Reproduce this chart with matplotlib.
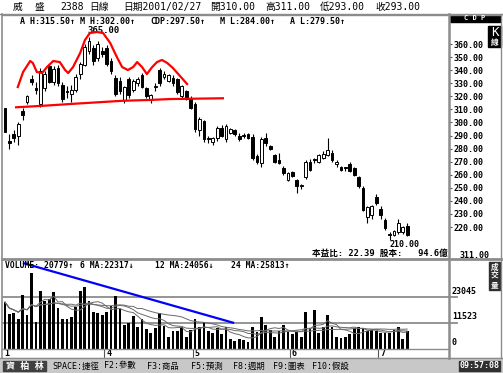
import matplotlib
matplotlib.use('Agg')
import matplotlib.pyplot as plt
from matplotlib.patches import Rectangle
import numpy as np
import pandas as pd

# stock 2388 daily candles + volume
opens = [311, 286, 291, 290, 309, 316, 333, 326, 314, 326, 343, 331, 342, 329, 324, 322,
         325, 337, 344, 355, 357, 349, 355, 357, 347, 334, 332, 317, 333, 325, 330, 336,
         326, 317, 327, 340, 335, 332, 334, 333, 320, 324, 319, 314, 294, 301, 288, 285,
         288, 296, 287, 292, 294, 290, 290, 291, 289, 274, 269, 288, 282, 275, 271, 265,
         256, 262, 256, 251, 258, 270, 271, 270, 273, 275, 277, 268, 266, 265, 268, 265,
         258, 250, 228, 229, 243, 234, 225, 215, 214, 216, 216, 221]
highs = [311, 291, 294, 300, 311, 321, 336, 331, 342, 339, 345, 343, 344, 331, 328, 329,
         337, 346, 360, 365, 359, 362, 358, 359, 349, 336, 335, 328, 335, 333, 335, 338,
         327, 322, 330, 342, 339, 337, 336, 334, 329, 325, 320, 316, 304, 302, 290, 289,
         297, 298, 299, 296, 295, 292, 292, 292, 291, 276, 289, 292, 283, 276, 277, 267,
         262, 263, 257, 253, 271, 272, 273, 276, 278, 288, 279, 271, 267, 266, 270, 266,
         259, 251, 236, 237, 245, 236, 227, 216, 218, 226, 221, 223]
lows = [293, 280, 285, 283, 302, 314, 329, 322, 312, 324, 330, 329, 328, 316, 319, 316,
        323, 333, 343, 352, 344, 347, 350, 343, 337, 320, 322, 315, 319, 323, 328, 326,
        319, 315, 324, 328, 333, 331, 328, 322, 318, 317, 310, 293, 290, 285, 284, 283,
        286, 289, 285, 291, 290, 286, 288, 287, 271, 268, 266, 282, 279, 269, 268, 260,
        255, 258, 246, 249, 257, 263, 269, 269, 272, 274, 270, 266, 263, 263, 262, 259,
        250, 232, 223, 226, 237, 226, 218, 210, 213, 215, 215, 213]
closes = [293, 284, 288, 299, 306, 320, 331, 325, 339, 337, 331, 341, 330, 318, 323, 325,
          335, 345, 358, 362, 347, 360, 352, 345, 339, 322, 324, 327, 321, 332, 333, 327,
          320, 321, 328, 330, 337, 336, 330, 323, 328, 318, 311, 295, 303, 287, 287, 288,
          296, 290, 297, 295, 291, 287, 290, 288, 273, 270, 287, 284, 280, 270, 269, 261,
          261, 259, 251, 252, 270, 264, 271, 275, 276, 279, 271, 270, 264, 265, 263, 260,
          251, 233, 235, 236, 238, 229, 219, 214, 217, 223, 220, 214]
volumes = [20779, 15400, 15800, 13300, 23900, 15100, 33800, 12100, 25800, 21400, 22000,
           25400, 18300, 13100, 13100, 14300, 18800, 25700, 27600, 21400, 16500, 15800,
           15100, 16500, 19200, 23500, 17600, 10600, 11400, 14600, 9900, 13100, 8700,
           7200, 9200, 15800, 10300, 5500, 8100, 8100, 9600, 5500, 8400, 13100, 9900,
           12100, 8000, 6900, 9200, 6600, 9900, 4400, 3700, 4400, 4000, 3200, 9900, 7700,
           14300, 10600, 8400, 5500, 8100, 10600, 7400, 6600, 7700, 5500, 16500, 9200,
           17300, 7200, 9900, 15100, 9900, 5500, 4700, 5500, 6500, 9200, 9600, 9200, 8100,
           8400, 8100, 6900, 7200, 7200, 8400, 9900, 4400, 8000]

month_starts = [0, 23, 43, 65, 85]
month_labels = ['1', '4', '5', '6', '7']
price_ticks = list(range(220, 361, 10))
vol_ticks = [0, 11523, 23045]

# hand drawn head-and-shoulders marks
hs_x = [2.9, 4.1, 5.7, 6.3, 7.2, 8.4, 9.5, 10.9, 12.4, 13.6, 14.3, 15.4, 17.0, 18.1,
        19.2, 20.8, 22.2, 23.8, 25.3, 26.5, 27.8, 29.0, 29.9, 31.0, 32.1, 33.3, 34.4,
        35.5, 36.7, 38.0, 39.6, 41.2]
hs_y = [327.1, 338.6, 347.0, 345.5, 338.6, 337.8, 342.4, 347.0, 346.2, 340.1, 337.8,
        342.4, 353.1, 363.1, 368.4, 369.2, 368.4, 360.8, 350.1, 342.4, 340.1, 342.4,
        346.2, 342.4, 337.0, 342.4, 346.2, 347.8, 345.5, 341.6, 335.5, 329.4]
neck_x = [2.5, 7.9, 14.7, 26.7, 32.8, 37.3, 49.3]
neck_y = [311.6, 312.6, 314.1, 316.6, 317.2, 317.9, 318.5]
vtrend_x = [4.3, 51.6]
vtrend_y = [37960, 11650]

W, H = 503, 373
MONO = ['DejaVu Sans Mono', 'Noto Sans CJK TC']
plt.rcParams['font.family'] = MONO
plt.rcParams['font.weight'] = 'bold'
GRAY = '#8c8c8c'

fig = plt.figure(figsize=(W / 100, H / 100), dpi=100)
fig.patch.set_facecolor('white')


def px_axes(x0, y0, x1, y1, z=1):
    return fig.add_axes([x0 / W, 1 - y1 / H, (x1 - x0) / W, (y1 - y0) / H], zorder=z)


XL = (-0.45, 100.45)
idx = np.arange(len(opens))
o = np.array(opens); c = np.array(closes)
h = np.array(highs); l = np.array(lows)

# price panel
ax = px_axes(3, 15, 449, 258)
ax.set_xlim(*XL)
ax.set_ylim(196.3, 382.2)
for s in ax.spines.values():
    s.set_visible(False)
ax.set_xticks([])
ax.yaxis.tick_right()
ax.set_yticks(price_ticks)
ax.set_yticklabels([f'{v:.2f}' for v in price_ticks])
ax.tick_params(axis='y', length=2, pad=1, labelsize=6, color='#555555')
ax.vlines(idx, l, h, color='black', lw=0.8, zorder=2)
up = c > o
body_h = np.maximum(np.abs(c - o), 0.7)
ax.bar(idx, body_h, bottom=np.minimum(o, c), width=0.62,
       color=np.where(up, 'white', 'black'), edgecolor='black', lw=0.7, zorder=3)
ax.plot(hs_x, hs_y, color='#ff0000', lw=1.6, zorder=4)
ax.plot(neck_x, neck_y, color='#ff0000', lw=1.6, zorder=4)
hi_i = int(np.argmax(h)); lo_i = int(np.argmin(l))
ax.annotate(f'{h[hi_i]:.2f}', (hi_i, h[hi_i]), xytext=(15, 7), textcoords='offset pixels',
            ha='center', va='center', fontsize=6.5)
ax.annotate(f'{l[lo_i]:.2f}', (lo_i, l[lo_i]), xytext=(15, -4), textcoords='offset pixels',
            ha='center', va='center', fontsize=6)

# volume panel
axv = px_axes(3, 261, 449, 349)
axv.set_xlim(*XL)
axv.set_ylim(0, 38984)
axv.axis('off')
for lv in vol_ticks[1:]:
    axv.plot([XL[0], 102.3], [lv, lv], color=GRAY, lw=1.3, clip_on=False, zorder=1)
axv.bar(idx, volumes, width=0.62, color='black', zorder=2)
vs = pd.Series(volumes)
for n in (6, 12, 24):
    axv.plot(idx, vs.rolling(n, min_periods=1).mean(), color='#6a6a6a', lw=0.7, zorder=3)
axv.plot(vtrend_x, vtrend_y, color='#0000ff', lw=1.6, zorder=4)

# month row
axm = px_axes(3, 349, 449, 358)
axm.set_xlim(*XL)
axm.set_ylim(0, 1)
axm.axis('off')
for k, (m, lab) in enumerate(zip(month_starts, month_labels)):
    if k:
        axm.vlines(m - 0.5, 0, 1, color='#555555', lw=0.8)
    axm.text(m - 0.1, 0.45, lab, fontsize=6, va='center', ha='left')

# overlay: frame, header, boxes and texts in pixel coords
ov = px_axes(0, 0, W, H, z=10)
ov.set_xlim(0, W)
ov.set_ylim(H, 0)
ov.axis('off')
ov.add_patch(Rectangle((0, 358), W, 15, color='#c8c8c8', zorder=0))
for x0, y0, x1, y1, lw in [(0, 13.5, W, 13.5, 1), (2, 14.5, 501, 14.5, 1),
                           (2.5, 14, 2.5, 358, 1.2), (449.5, 14, 449.5, 358, 1.8),
                           (501.5, 14, 501.5, 358, 1), (2, 259, 501, 259, 2),
                           (2, 349, 449, 349, 1), (0, 358, W, 358, 1)]:
    ov.plot([x0, x1], [y0, y1], color=GRAY, lw=lw)

head = [('威', 13), ('盛', 35), ('2388', 60), ('日線', 89), ('日期2001/02/27', 123),
        ('開310.00', 210), ('高311.00', 265), ('低293.00', 320), ('收293.00', 375)]
for t, x in head:
    ov.text(x, 7, t, fontsize=7, va='center', ha='left', weight='normal')

cdp = [('A H:315.50↑', 20), ('M H:302.00↑', 80), ('CDP:297.50↑', 150),
       ('M L:284.00↑', 220), ('A L:279.50↑', 290)]
for t, x in cdp:
    ov.text(x, 22, t, fontsize=6, va='center', ha='left')

vlab = [('VOLUME: 20779↑', 5), ('6 MA:22317↓', 80), ('12 MA:24056↓', 155),
        ('24 MA:25813↑', 231)]
for t, x in vlab:
    ov.text(x, 266, t, fontsize=5.8, va='center', ha='left')

ov.text(448, 253, '本益比: 22.39 股本:   94.6億', fontsize=6.2, ha='right', va='center')
ov.text(475, 256, '311.00', fontsize=6, ha='center', va='center')

ov.add_patch(Rectangle((450, 15), 50, 7, color='black'))
ov.text(475, 18.5, 'C D P', fontsize=5, color='white', ha='center', va='center')
ov.add_patch(Rectangle((488, 26), 13, 21, color='black'))
ov.text(494.5, 32, 'K', fontsize=9, color='white', ha='center', va='center', weight='normal')
ov.text(494.5, 42, '線', fontsize=5.5, color='white', ha='center', va='center')
ov.add_patch(Rectangle((489, 262), 11, 28, color='#303030'))
for k, ch in enumerate('成交量'):
    ov.text(494.5, 267 + 9 * k, ch, fontsize=5.5, color='white', ha='center', va='center')
for lv, y in zip(vol_ticks, [347, 321, 296]):
    ov.text(452, y, str(lv), fontsize=6, ha='left', va='bottom')

ov.add_patch(Rectangle((3, 361), 43, 10, color='#404040'))
ov.text(24.5, 366, '資 柏 林', fontsize=6.5, color='white', ha='center', va='center')
foot = [('SPACE:捷徑', 52), ('F2:參數', 104), ('F3:商品', 147), ('F5:預測', 191),
        ('F8:週期', 233), ('F9:圖表', 273), ('F10:假設', 312)]
for t, x in foot:
    ov.text(x, 366, t, fontsize=6, ha='left', va='center', weight='normal')
ov.add_patch(Rectangle((459, 361), 41, 10, color='#303030'))
ov.text(479.5, 366, '09:57:08', fontsize=6, color='white', ha='center', va='center')

fig.savefig('out.png', dpi=100, facecolor=fig.get_facecolor())
